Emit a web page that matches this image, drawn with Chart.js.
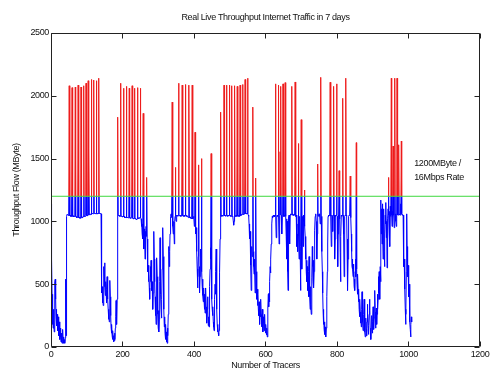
<!DOCTYPE html>
<html>
<head>
<meta charset="utf-8">
<title>Real Live Throughput Internet Traffic in 7 days</title>
<script src="https://cdn.jsdelivr.net/npm/chart.js@4.4.1/dist/chart.umd.min.js"></script>
<style>
    html, body { margin: 0; padding: 0; background: #ffffff; }
    #wrap { width: 492px; height: 376px; }
</style>
</head>
<body>
<div id="wrap"><canvas id="trafficChart" width="492" height="376"></canvas></div>
<script>
const xTicks = [0, 200, 400, 600, 800, 1000, 1200];
const yTicks = [0, 500, 1000, 1500, 2000, 2500];
const rateLimit = 1200;
const rateLabel = ["1200MByte /", "16Mbps Rate"];

// throughput (MByte) per tracer, index = tracer number
const flow = [
    480, 1140, 700, 420, 180, 260, 150, 300, 210, 120,        // 0
    330, 520, 540, 380, 240, 300, 170, 260, 200, 130,
    240, 160, 90, 200, 120, 60, 150, 80, 40, 110,
    60, 30, 90, 140, 50, 80, 30, 40, 60, 30,
    70, 540, 90, 560, 1040, 1055, 1050, 1055, 1050, 1045,
    1050, 2080, 1050, 1045, 1050, 1040, 1045, 1050, 1040, 2065, // 50
    1045, 1040, 1045, 1040, 1035, 1040, 1035, 1040, 2070, 1040,
    1035, 1040, 1030, 1035, 1030, 1035, 2085, 1035, 1030, 1035,
    1030, 1025, 1030, 1025, 2070, 1030, 1035, 1030, 1035, 1030,
    1040, 1035, 2080, 1040, 1035, 1045, 1040, 1045, 2100, 1045,
    1050, 1045, 1050, 1045, 2120, 1050, 1580, 1055, 1050, 1060, // 100
    1055, 1060, 1055, 2130, 1060, 1065, 1060, 1065, 1060, 1065,
    2125, 1065, 1060, 1065, 1060, 1065, 1060, 2120, 1065, 1060,
    1065, 1060, 1065, 1060, 2140, 1065, 1060, 1065, 1060, 1065,
    1060, 540, 430, 480, 350, 420, 330, 520, 640, 560,
    670, 480, 410, 520, 440, 350, 460, 560, 500, 380,           // 150
    300, 220, 280, 200, 320, 530, 400, 250, 160, 110,
    180, 90, 60, 130, 70, 40, 90, 50, 110, 60,
    150, 240, 370, 300, 180, 380, 1040, 1830, 1050, 1045,
    1050, 1040, 1045, 1050, 1040, 2100, 1045, 1040, 1045, 1035,
    1040, 1035, 1040, 2060, 1035, 1040, 1030, 1035, 1030, 1035, // 200
    1030, 2075, 1030, 1035, 1030, 1035, 1030, 1025, 1030, 2060,
    1030, 1025, 1030, 1025, 1030, 1025, 1030, 2080, 1025, 1030,
    1020, 1025, 1020, 1025, 2060, 1020, 1025, 1020, 1015, 1020,
    1015, 1020, 2065, 1020, 1025, 1020, 1030, 1025, 1030, 1035,
    2060, 1030, 1020, 960, 1000, 900, 980, 860, 1860, 900,      // 250
    780, 940, 880, 700, 920, 860, 960, 880, 1350, 860,
    720, 600, 650, 520, 580, 470, 380, 520, 640, 560,
    690, 600, 450, 520, 380, 300, 430, 640, 920, 700,
    520, 400, 250, 330, 180, 420, 710, 560, 380, 260,
    150, 290, 120, 220, 520, 870, 600, 420, 300, 230,           // 300
    380, 620, 800, 950, 720, 480, 300, 160, 240, 110,
    60, 180, 100, 40, 120, 30, 150, 90, 260, 520,
    800, 640, 760, 900, 1000, 1040, 1060, 1030, 1050, 1950,
    1040, 960, 900, 1000, 940, 820, 1000, 1040, 1430, 1040,
    1000, 1050, 1045, 1050, 1040, 1050, 1045, 2100, 1050, 1045, // 350
    1050, 1040, 1050, 1045, 1050, 1040, 1050, 2085, 1050, 1045,
    1040, 1050, 1045, 1050, 1040, 1050, 2090, 1050, 1040, 1045,
    1050, 1040, 1035, 1040, 1030, 1040, 2085, 1040, 1030, 1035,
    1030, 1025, 1030, 1020, 1030, 2085, 1030, 1020, 1030, 1040,
    1030, 960, 1020, 1710, 980, 900, 950, 860, 760, 620,        // 400
    470, 560, 720, 1450, 640, 520, 430, 560, 690, 780,
    620, 1500, 600, 480, 540, 410, 360, 470, 380, 300,
    420, 270, 360, 470, 320, 220, 190, 300, 400, 310,
    170, 240, 160, 320, 480, 620, 790, 700, 1540, 520,
    380, 300, 250, 320, 200, 160, 130, 240, 380, 500,           // 450
    420, 600, 780, 540, 300, 180, 120, 160, 110, 90,
    130, 300, 590, 860, 1040, 1870, 1040, 1050, 1045, 1050,
    1040, 1050, 1045, 1050, 2085, 1050, 1045, 1050, 1040, 1050,
    1045, 2085, 1050, 1045, 1050, 1040, 1050, 1045, 1050, 2085,
    1050, 1040, 1045, 1050, 1040, 1050, 2080, 1040, 1035, 1040, // 500
    1000, 970, 1000, 1030, 2080, 1040, 1045, 1040, 1050, 1045,
    1040, 2075, 1040, 1045, 1040, 1050, 1045, 1050, 1040, 2085,
    1050, 1045, 1050, 1055, 1050, 1060, 1055, 2090, 1060, 1055,
    1060, 1065, 1060, 2130, 1060, 1065, 1060, 1065, 1060, 1065,
    2140, 1060, 1050, 1040, 980, 900, 860, 920, 800, 650,       // 550
    450, 620, 800, 720, 850, 1910, 760, 640, 580, 700,
    620, 430, 560, 1345, 600, 520, 380, 460, 330, 420,
    300, 250, 360, 270, 180, 300, 240, 380, 260, 160,
    220, 300, 200, 120, 240, 190, 130, 160, 260, 140,
    110, 180, 130, 95, 150, 80, 220, 310, 420, 320,             // 600
    430, 360, 520, 640, 590, 700, 820, 930, 980, 1040,
    1030, 1045, 1050, 1040, 1050, 1035, 1045, 1050, 2095, 1040,
    870, 1000, 1045, 1050, 1040, 1050, 2085, 1050, 820, 1045,
    1050, 1555, 1050, 2075, 1040, 1050, 900, 1040, 1050, 2095,
    1050, 1040, 1045, 1050, 1040, 2105, 1050, 1040, 880, 1020,  // 650
    700, 1000, 600, 450, 820, 1040, 1050, 1040, 820, 1050,
    1060, 1050, 1055, 1050, 2075, 1050, 1060, 1050, 1045, 1055,
    1050, 1060, 1050, 2110, 1050, 1040, 1050, 960, 800, 900,
    760, 980, 1620, 880, 700, 1000, 1040, 760, 450, 800,
    1810, 1000, 620, 900, 1040, 800, 1050, 1000, 1040, 1250,    // 700
    960, 880, 700, 820, 600, 690, 520, 640, 450, 560,
    400, 600, 720, 560, 400, 300, 480, 340, 260, 420,
    550, 800, 640, 520, 690, 470, 600, 800, 930, 1040,
    1050, 1060, 1000, 880, 700, 900, 1457, 1050, 1040, 1050,
    1060, 1040, 1050, 980, 1050, 2147, 1040, 880, 760, 600,     // 750
    430, 300, 180, 250, 140, 200, 100, 160, 90, 80,
    150, 220, 400, 600, 820, 1040, 1050, 1040, 1050, 1045,
    1050, 2108, 1050, 1040, 800, 1000, 1050, 1040, 920, 1050,
    1045, 2075, 1050, 1040, 700, 860, 1050, 1040, 1050, 2095,
    1050, 1040, 640, 900, 1050, 1040, 1404, 1050, 1020, 750,    // 800
    520, 880, 1050, 1040, 1050, 1045, 1980, 1050, 1040, 900,
    560, 800, 1040, 1050, 1045, 2140, 1050, 1040, 860, 600,
    450, 700, 900, 1040, 1050, 1045, 1050, 1361, 1040, 1030,
    900, 760, 640, 700, 620, 560, 660, 600, 480, 540,
    450, 600, 700, 560, 1627, 620, 500, 420, 580, 460,          // 850
    360, 450, 300, 240, 380, 280, 190, 250, 160, 300,
    440, 330, 200, 130, 190, 260, 380, 240, 120, 80,
    160, 230, 140, 90, 200, 340, 270, 160, 100, 170,
    260, 380, 290, 150, 90, 60, 140, 250, 180, 110,
    200, 320, 240, 140, 230, 330, 450, 280, 150, 200,           // 900
    310, 180, 260, 420, 300, 380, 560, 430, 600, 500,
    380, 640, 520, 1170, 900, 1100, 820, 1140, 960, 700,
    880, 1100, 760, 640, 900, 1050, 980, 1150, 870, 1000,
    630, 760, 1020, 1100, 1350, 1050, 900, 1080, 800, 1120,
    1040, 1060, 2140, 1050, 960, 1080, 1040, 1600, 1050, 1060,  // 950
    950, 1050, 2140, 1050, 1060, 1000, 960, 1050, 2140, 1050,
    1060, 1050, 1100, 1610, 1060, 1050, 1060, 1050, 1140, 1060,
    1640, 1060, 1050, 1055, 1050, 1050, 980, 640, 700, 520,
    460, 300, 180, 260, 600, 1060, 800, 620, 560, 650,
    480, 400, 500, 300, 200, 140, 80, 180, 240, 200             // 1000
];

const fontFamily = "'Liberation Sans', Arial, sans-serif";
const fontSize = 9;
const textColor = "#111111";

document.addEventListener("DOMContentLoaded", () => {

    const points = flow.map((v, i) => ({ x: i, y: v }));

    const limitPoints = [
        { x: xTicks[0], y: rateLimit },
        { x: xTicks[xTicks.length - 1], y: rateLimit }
    ];

    // the original uses a narrow Helvetica, tighten the letters a bit
    const narrowText = {
        id: "narrowText",
        beforeDraw(chart) {
            chart.ctx.letterSpacing = "-0.35px";
        }
    };

    // same trace drawn twice: red above the rate line, blue below it
    const splitAtRate = {
        id: "splitAtRate",
        beforeDatasetDraw(chart, args) {
            const band = chart.data.datasets[args.index].band;
            if (!band) return;
            const { ctx, chartArea: a } = chart;
            const yLimit = chart.scales.y.getPixelForValue(rateLimit);
            ctx.save();
            ctx.beginPath();
            if (band === "above") {
                ctx.rect(a.left, a.top, a.right - a.left, yLimit - a.top);
            } else {
                ctx.rect(a.left, yLimit, a.right - a.left, a.bottom - yLimit);
            }
            ctx.clip();
        },
        afterDatasetDraw(chart, args) {
            if (chart.data.datasets[args.index].band) {
                chart.ctx.restore();
            }
        }
    };

    // MATLAB style box with inward ticks, plus the rate note
    const framePlugin = {
        id: "frame",
        afterDatasetsDraw(chart) {
            const { ctx, chartArea: a, scales } = chart;
            const xs = scales.x;
            const ys = scales.y;
            const L = Math.round(a.left) + 0.5;
            const R = Math.round(a.right) - 0.5;
            const T = Math.round(a.top) + 0.5;
            const B = Math.round(a.bottom) - 0.5;

            ctx.save();
            ctx.strokeStyle = "#222222";
            ctx.lineWidth = 1;
            ctx.beginPath();
            ctx.moveTo(L, T);
            ctx.lineTo(R, T);
            ctx.lineTo(R, B);
            ctx.lineTo(L, B);
            ctx.closePath();

            xs.ticks.forEach(t => {
                const px = Math.round(xs.getPixelForValue(t.value)) + 0.5;
                ctx.moveTo(px, B);
                ctx.lineTo(px, B - 5);
                ctx.moveTo(px, T);
                ctx.lineTo(px, T + 5);
            });
            ys.ticks.forEach(t => {
                const py = Math.round(ys.getPixelForValue(t.value)) + 0.5;
                ctx.moveTo(L, py);
                ctx.lineTo(L + 5, py);
                ctx.moveTo(R, py);
                ctx.lineTo(R - 5, py);
            });
            ctx.stroke();

            ctx.fillStyle = textColor;
            ctx.font = fontSize + "px " + fontFamily;
            ctx.textAlign = "left";
            ctx.textBaseline = "middle";
            ctx.fillText(rateLabel[0], xs.getPixelForValue(1016), ys.getPixelForValue(1461));
            ctx.fillText(rateLabel[1], xs.getPixelForValue(1016), ys.getPixelForValue(1346));
            ctx.restore();
        }
    };

    Chart.defaults.font.family = fontFamily;
    Chart.defaults.font.size = fontSize;
    Chart.defaults.color = textColor;

    const ctx = document.getElementById("trafficChart").getContext("2d");

    new Chart(ctx, {
        type: "line",
        data: {
            datasets: [
                {
                    label: "1200MByte / 16Mbps Rate",
                    data: limitPoints,
                    borderColor: "#3fd83f",
                    borderWidth: 1,
                    pointRadius: 0
                },
                {
                    label: "Throughput above rate",
                    data: points,
                    band: "above",
                    borderColor: "#ee1c1c",
                    borderWidth: 1,
                    pointRadius: 0
                },
                {
                    label: "Throughput",
                    data: points,
                    band: "below",
                    borderColor: "#0000ff",
                    borderWidth: 1,
                    pointRadius: 0
                }
            ]
        },
        options: {
            responsive: false,
            animation: false,
            layout: {
                padding: { left: 0, right: 9, top: 0, bottom: 0 }
            },
            plugins: {
                legend: { display: false },
                tooltip: { enabled: false },
                title: {
                    display: true,
                    text: "Real Live Throughput Internet Traffic in 7 days",
                    fullSize: false,
                    color: textColor,
                    font: { size: fontSize, weight: "normal" },
                    padding: { top: 12.6, bottom: 9.6 }
                }
            },
            scales: {
                x: {
                    type: "linear",
                    min: xTicks[0],
                    max: xTicks[xTicks.length - 1],
                    afterBuildTicks: (scale) => {
                        scale.ticks = xTicks.map(v => ({ value: v }));
                    },
                    afterFit: (scale) => {
                        scale.height = 29;
                    },
                    grid: { display: false, drawTicks: false },
                    border: { display: false },
                    ticks: {
                        padding: 2,
                        maxRotation: 0,
                        autoSkip: false,
                        callback: (v) => String(v)
                    },
                    title: {
                        display: true,
                        text: "Number of Tracers",
                        padding: { top: 0, bottom: 4.6 }
                    }
                },
                y: {
                    type: "linear",
                    min: yTicks[0],
                    max: yTicks[yTicks.length - 1],
                    afterBuildTicks: (scale) => {
                        scale.ticks = yTicks.map(v => ({ value: v }));
                    },
                    afterFit: (scale) => {
                        scale.width = 51;
                    },
                    grid: { display: false, drawTicks: false },
                    border: { display: false },
                    ticks: {
                        padding: 2,
                        autoSkip: false,
                        callback: (v) => String(v)
                    },
                    title: {
                        display: true,
                        text: "Throughput Flow (MByte)",
                        padding: { top: 11.6, bottom: 0 }
                    }
                }
            }
        },
        plugins: [narrowText, splitAtRate, framePlugin]
    });

});
</script>
</body>
</html>
